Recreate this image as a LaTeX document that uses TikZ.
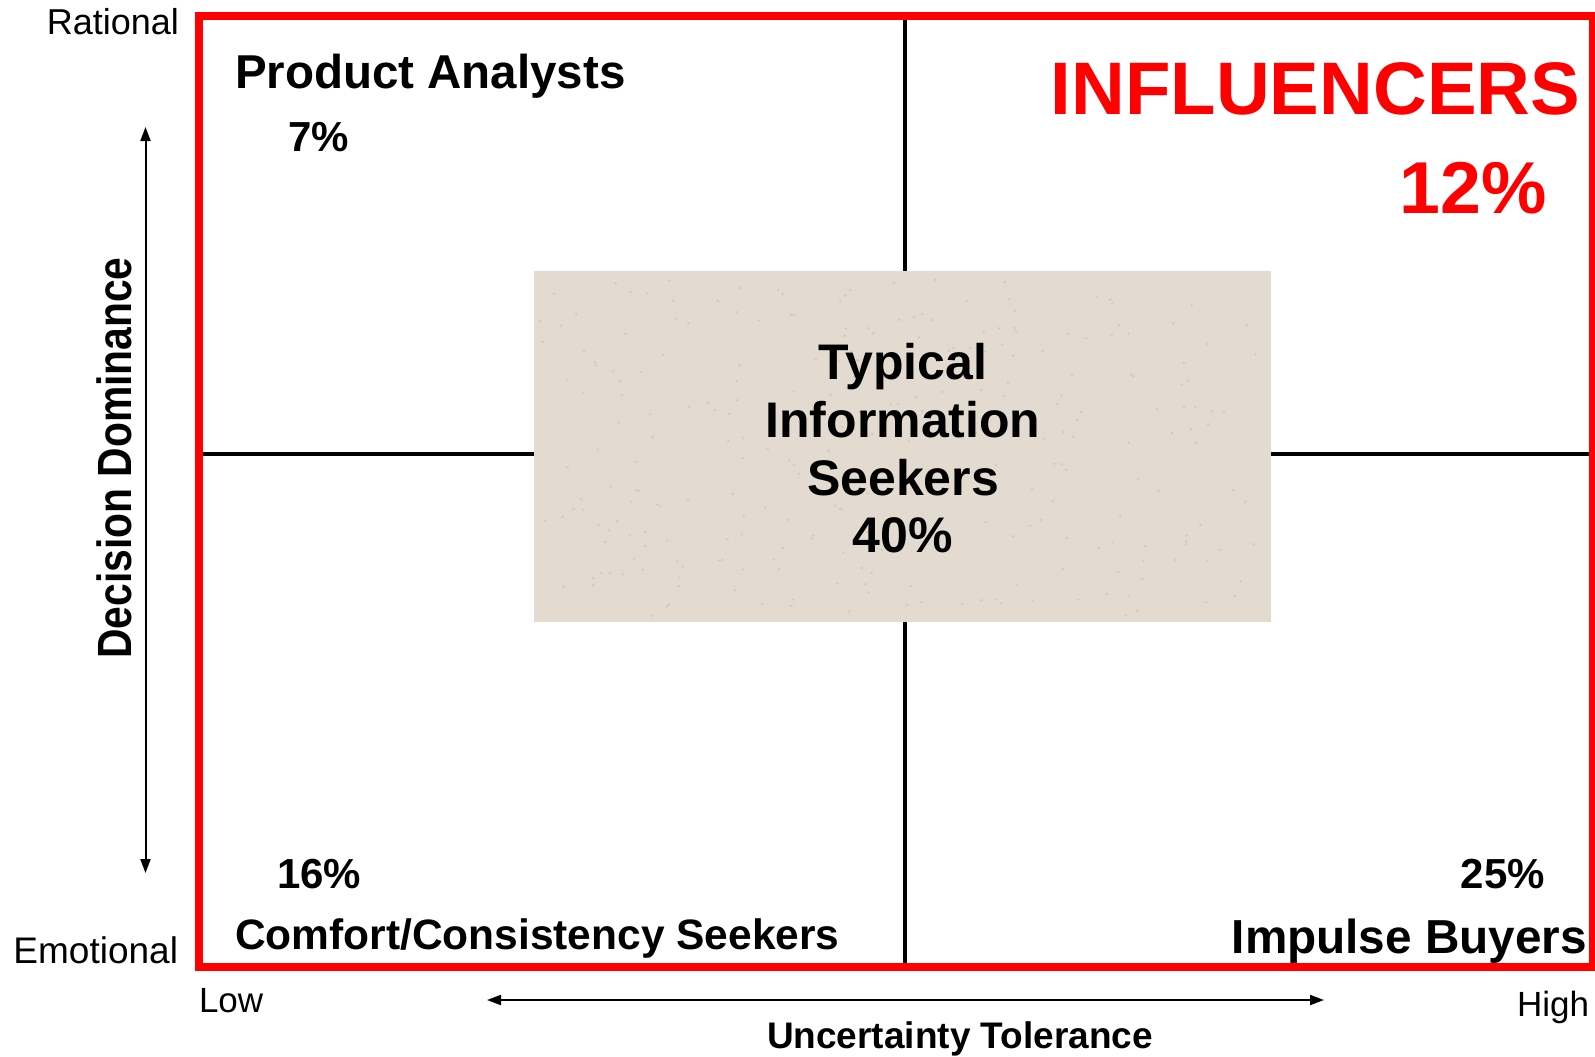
\documentclass[tikz,border=0pt]{standalone}
\usepackage{fontspec}
\setmainfont{Liberation Sans}
\usetikzlibrary{arrows.meta}
\newcommand\fsz[1]{\fontsize{#1}{#1}\selectfont}
\definecolor{boxbeige}{RGB}{227,219,208}
\definecolor{speck}{RGB}{200,190,178}
\definecolor{framered}{RGB}{255,0,0}
\tikzset{
  lbl/.style={inner sep=0pt, outer sep=0pt},
  axislbl/.style={lbl, font=\fsz{18pt}},
  quad/.style={lbl, font=\bfseries\fsz{23.75pt}},
  pct/.style={lbl, font=\bfseries\fsz{21pt}},
  boxtxt/.style={lbl, anchor=base, font=\bfseries\fsz{25pt}},
  divider/.style={line width=2pt, black},
  axisarrow/.style={line width=1pt, {Triangle[length=7pt,width=5pt]}-{Triangle[length=7pt,width=5pt]}},
}
\begin{document}
\begin{tikzpicture}[x=0.5pt,y=-0.5pt]
\useasboundingbox (0,0) rectangle (1595,1056);

% dividers
\coordinate (vt) at (905,16);
\coordinate (vb) at (905,967);
\coordinate (hl) at (199,454);
\coordinate (hr) at (1594,454);
\draw[divider] (vt) -- (vb);
\draw[divider] (hl) -- (hr);

% central box
\node[lbl, fill=boxbeige, minimum width=368.5pt, minimum height=175.5pt, anchor=north west] (box) at (534,271) {};
\pgfmathsetseed{7}
\foreach \i in {1,...,260} {
  \pgfmathsetmacro\sx{540+725*rnd}
  \pgfmathsetmacro\sy{277+339*rnd}
  \fill[speck, opacity=0.6] (\sx,\sy) circle (0.7pt);
}
\node[boxtxt] (t1) at (903,379) {Typical};
\node[boxtxt] (t2) at (903,437) {Information};
\node[boxtxt] (t3) at (903,495) {Seekers};
\node[boxtxt] (t4) at (903,552) {40\%};

% red frame
\draw[framered, line width=4pt] (199,16) rectangle (1593,967);

% quadrant labels
\node[quad, anchor=base west] (pa) at (235,88) {Product Analysts};
\node[pct, anchor=base west] (p7) at (288,151) {7\%};
\node[lbl, anchor=base east, text=framered, font=\bfseries\fsz{37.2pt}] (inf) at (1580,114) {INFLUENCERS};
\node[lbl, anchor=base east, text=framered, font=\bfseries\fsz{36.75pt}] (p12) at (1547,213) {12\%};
\node[pct, anchor=base west] (p16) at (277,888) {16\%};
\node[lbl, anchor=base west, font=\bfseries\fsz{21.25pt}] (ccs) at (235,949) {Comfort/Consistency Seekers};
\node[pct, anchor=base east] (p25) at (1545,888) {25\%};
\node[lbl, anchor=base east, font=\bfseries\fsz{23.85pt}] (ib) at (1587,953) {Impulse Buyers};

% axis labels
\node[axislbl, anchor=base east] (rat) at (179,34) {Rational};
\node[axislbl, anchor=base east, font=\fsz{18.5pt}] (emo) at (178,963) {Emotional};
\node[axislbl, anchor=base west, font=\fsz{17.5pt}] (low) at (199,1012) {Low};
\node[axislbl, anchor=base east, font=\fsz{17.5pt}] (high) at (1589,1016) {High};
\node[lbl, anchor=base, font=\bfseries\fsz{18.5pt}] (ut) at (960,1048) {Uncertainty Tolerance};
\node[lbl, rotate=90, font=\bfseries\fsz{24pt}] (dd) at (114.5,458) {\scalebox{0.85}[1]{Decision Dominance}};

% axis arrows
\coordinate (at) at (145.5,127);
\coordinate (ab) at (145.5,873);
\coordinate (al) at (487,1000);
\coordinate (ar) at (1324,1000);
\draw[axisarrow] (at) -- (ab);
\draw[axisarrow] (al) -- (ar);
\end{tikzpicture}
\end{document}
